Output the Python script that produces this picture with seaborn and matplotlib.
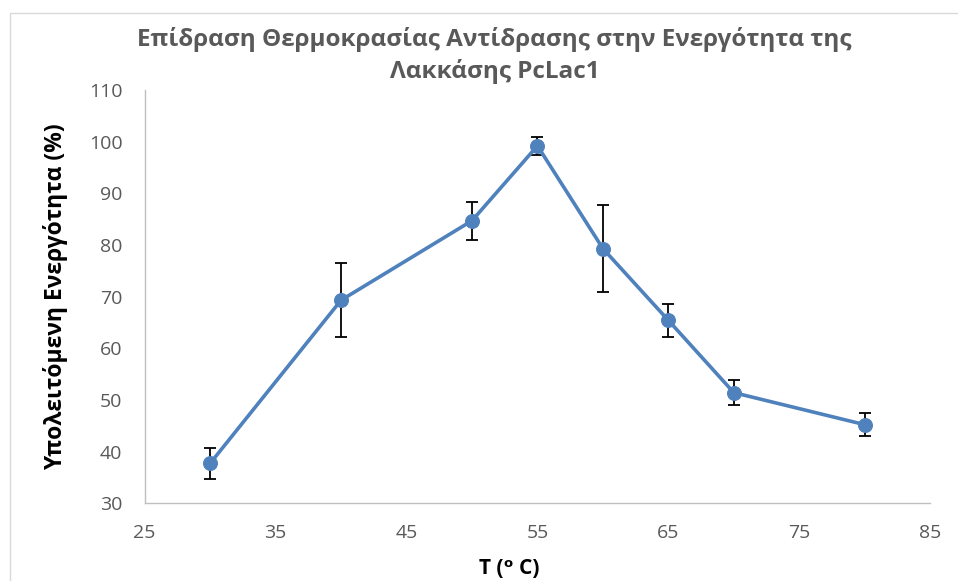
import matplotlib
matplotlib.use("Agg")
import matplotlib.pyplot as plt
import seaborn as sns
import pandas as pd

# Δεδομένα διαγράμματος
temperature = [30, 40, 50, 55, 60, 65, 70, 80]
activity = [37.7, 69.3, 84.7, 99.2, 79.3, 65.4, 51.4, 45.2]
activity_err = [3.0, 7.2, 3.7, 1.7, 8.5, 3.2, 2.4, 2.2]

x_ticks = [25, 35, 45, 55, 65, 75, 85]
y_ticks = [30, 40, 50, 60, 70, 80, 90, 100, 110]

title = "Επίδραση Θερμοκρασίας Αντίδρασης στην Ενεργότητα της\nΛακκάσης PcLac1"
x_label = "T (ᵒ C)"
y_label = "Υπολειτόμενη Ενεργότητα (%)"


def main():
    sns.set_style("white")
    plt.rcParams["font.family"] = ["Open Sans", "DejaVu Sans"]

    df = pd.DataFrame({"T": temperature, "act": activity, "err": activity_err})

    fig = plt.figure(figsize=(9.58, 5.81), dpi=100)
    ax = fig.add_axes([0.151, 0.134, 0.82, 0.711])

    # error bars κάτω από τη γραμμή
    ax.errorbar(df["T"], df["act"], yerr=df["err"], fmt="none",
                ecolor="black", elinewidth=1.3, capsize=4.5, capthick=1.3, zorder=2)

    sns.lineplot(data=df, x="T", y="act", ax=ax, color="#4F81BD",
                 linewidth=2.6, marker="o", markersize=10,
                 markeredgecolor="#4F81BD", zorder=3)

    ax.set_xlim(25, 85)
    ax.set_ylim(30, 110)
    ax.set_xticks(x_ticks)
    ax.set_yticks(y_ticks)
    ax.tick_params(axis="both", labelsize=14, colors="#595959", length=0)
    ax.tick_params(axis="y", pad=16)
    ax.tick_params(axis="x", pad=15)

    for side in ["top", "right"]:
        ax.spines[side].set_visible(False)
    for side in ["left", "bottom"]:
        ax.spines[side].set_color("#BFBFBF")
        ax.spines[side].set_linewidth(1.0)

    ax.set_xlabel(x_label, fontsize=15, fontweight="bold", color="black")
    ax.set_ylabel(y_label, fontsize=16.5, fontweight="bold", color="black")
    ax.xaxis.set_label_coords(0.464, -0.132)
    ax.yaxis.set_label_coords(-0.097, 0.5)

    fig.text(0.516, 0.905, title, ha="center", va="center", fontsize=17.5,
             fontweight="bold", color="#595959", linespacing=1.35)

    # περίγραμμα περιοχής γραφήματος (συνεχίζει έξω από την εικόνα δεξιά/κάτω)
    fig.patches.append(plt.Rectangle((0.0104, -0.05), 1.1, 1.05 - 0.0224,
                                     transform=fig.transFigure, fill=False,
                                     edgecolor="#D9D9D9", linewidth=1.0))

    fig.savefig("out.png", dpi=100)


if __name__ == "__main__":
    main()
